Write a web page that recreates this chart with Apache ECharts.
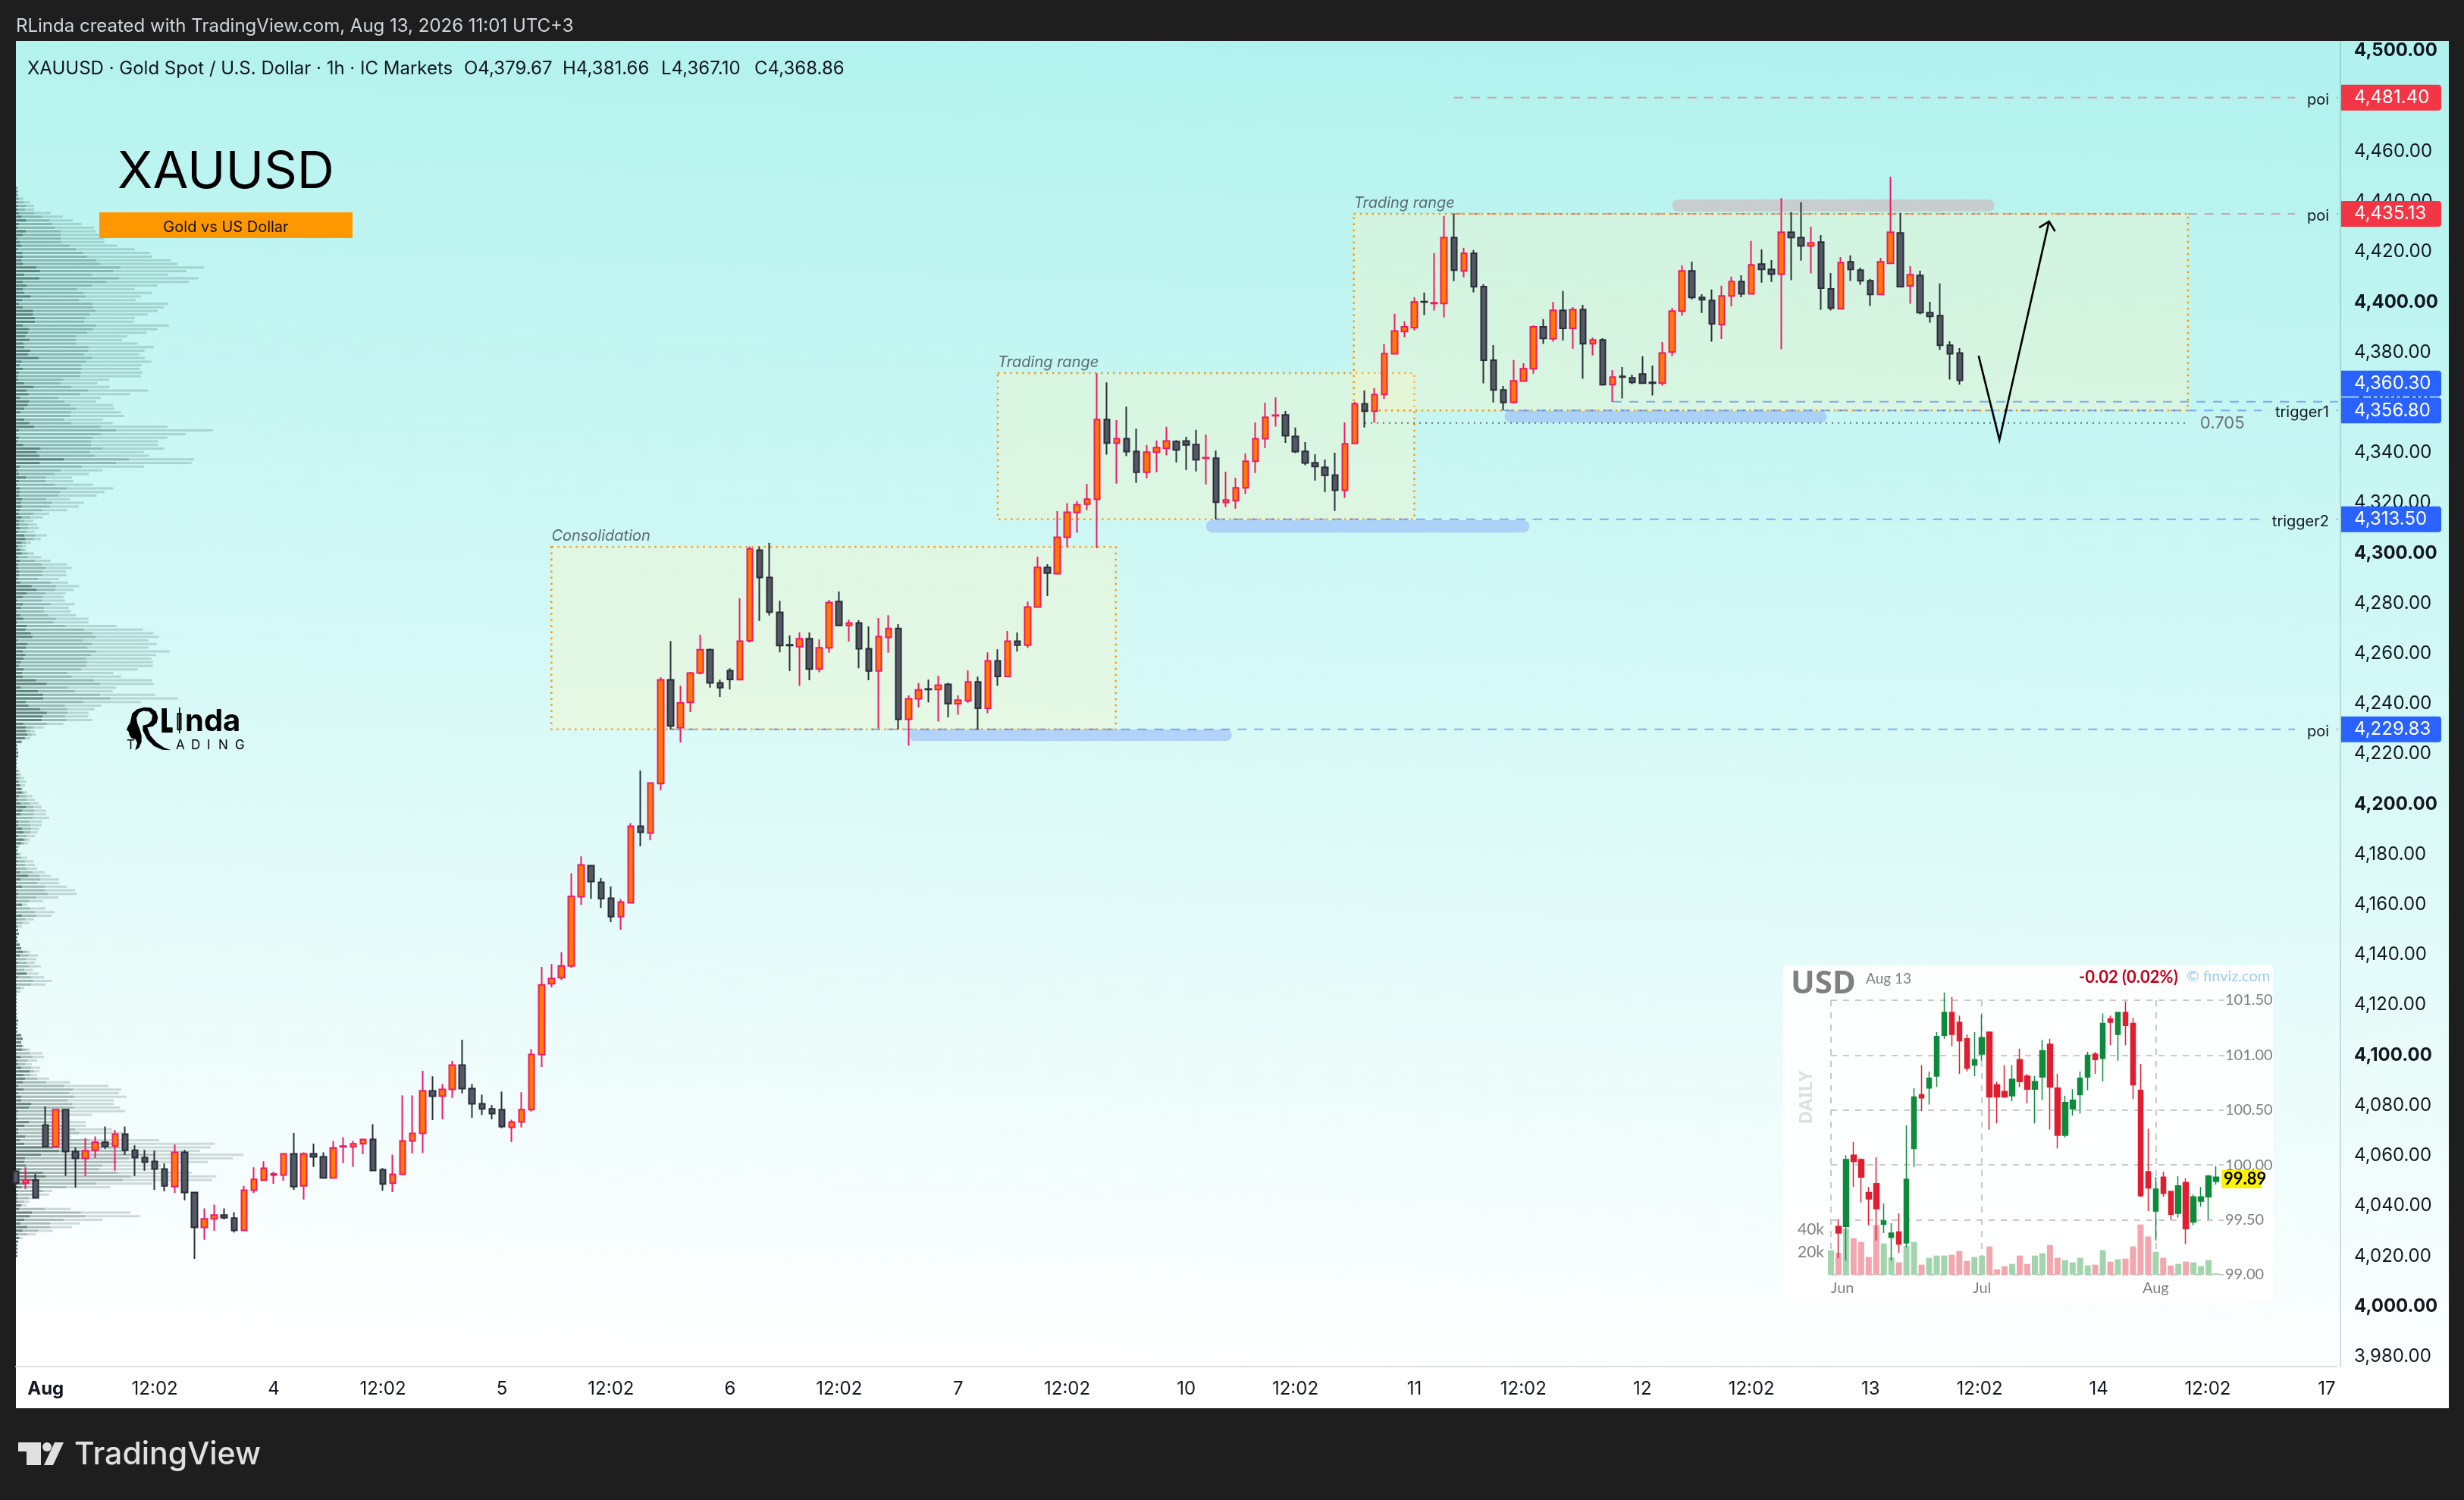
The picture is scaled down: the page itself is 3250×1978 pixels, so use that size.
<!DOCTYPE html>
<html>
<head>
	<meta charset="UTF-8">
	<title>XAUUSD</title>
	<script src="https://cdn.jsdelivr.net/npm/echarts@6/dist/echarts.min.js"></script>
	<style>
		html, body { margin: 0; padding: 0; background: #1e1e1e; }
		#main { width: 3250px; height: 1978px; }
	</style>
</head>
<body>
	<div id="main"></div>
	<script type="text/javascript">
		// XAUUSD hourly bars
		var opens = [4053.8,4049.0,4050.2,4072.2,4063.5,4078.3,4061.6,4058.9,4062.2,4065.3,
			4063.8,4068.6,4062.2,4059.2,4057.7,4054.7,4047.7,4061.3,4045.3,4031.4,
			4034.8,4036.3,4035.1,4030.2,4046.2,4050.2,4052.3,4052.3,4060.7,4048.0,
			4060.7,4059.5,4051.1,4063.5,4063.5,4064.7,4066.5,4054.4,4049.0,4052.6,
			4065.9,4068.9,4085.8,4083.7,4086.4,4096.1,4086.7,4080.7,4078.6,4078.3,
			4071.3,4073.4,4078.3,4100.3,4128.5,4130.9,4135.6,4163.1,4175.5,4168.9,
			4162.5,4155.2,4160.7,4191.2,4188.5,4208.2,4249.5,4230.5,4240.5,4252.2,
			4261.5,4248.3,4253.2,4249.6,4265.1,4301.2,4290.3,4276.4,4263.5,4262.7,
			4265.9,4253.8,4262.3,4280.7,4271.2,4272.2,4261.9,4253.1,4266.4,4270.0,
			4233.8,4242.0,4245.9,4245.7,4247.7,4240.0,4241.2,4248.7,4238.2,4257.1,
			4250.9,4264.9,4263.3,4278.5,4294.3,4291.8,4306.3,4316.2,4319.5,4321.4,
			4353.2,4343.8,4345.6,4340.5,4332.2,4340.2,4341.7,4344.4,4344.7,4343.2,
			4337.8,4337.8,4320.2,4320.9,4326.0,4336.6,4345.6,4354.7,4355.0,4346.5,
			4340.5,4336.0,4334.2,4331.1,4325.0,4343.7,4359.5,4356.5,4363.2,4379.4,
			4388.2,4389.8,4400.2,4399.4,4399.4,4425.7,4412.4,4419.4,4406.1,4376.8,
			4365.0,4360.1,4368.5,4373.4,4390.1,4385.4,4396.7,4389.5,4397.0,4383.4,
			4384.9,4367.1,4370.4,4369.8,4371.3,4368.0,4367.7,4380.1,4396.4,4412.4,
			4401.8,4400.6,4391.0,4402.4,4408.2,4403.3,4415.1,4413.0,4411.1,4427.8,
			4425.7,4422.4,4423.9,4405.2,4397.3,4416.0,4412.7,4408.5,4403.0,4415.4,
			4427.5,4406.4,4410.6,4395.8,4394.6,4382.8,4379.67];
		var closes = [4049.1,4050.3,4043.2,4063.6,4078.3,4061.6,4058.9,4061.9,4065.3,4063.7,
			4068.6,4062.2,4059.2,4057.4,4054.7,4048.0,4061.3,4045.3,4031.4,4034.8,
			4036.3,4035.3,4030.2,4046.2,4050.5,4055.0,4052.7,4060.7,4047.7,4060.7,
			4059.5,4051.1,4063.1,4063.8,4064.7,4066.5,4054.1,4048.7,4052.6,4065.9,
			4068.9,4085.8,4083.7,4086.4,4096.1,4086.7,4080.7,4078.6,4076.7,4071.6,
			4073.4,4078.3,4100.3,4128.0,4130.6,4135.6,4163.3,4175.8,4169.2,4162.4,
			4155.2,4161.0,4191.2,4188.8,4208.4,4249.5,4231.2,4240.4,4252.2,4261.5,
			4248.3,4246.4,4249.7,4264.9,4301.7,4290.3,4276.5,4263.2,4263.2,4265.9,
			4253.8,4262.3,4280.3,4271.2,4272.2,4261.9,4253.1,4266.7,4270.0,4233.8,
			4242.0,4245.5,4245.7,4247.4,4240.1,4241.4,4248.7,4238.2,4257.1,4250.9,
			4264.9,4263.3,4278.5,4294.3,4292.0,4306.3,4316.3,4319.3,4321.5,4353.2,
			4343.8,4345.6,4340.4,4332.2,4340.2,4342.0,4344.7,4341.1,4343.1,4337.2,
			4338.0,4320.3,4321.2,4326.0,4336.6,4345.6,4354.1,4354.9,4346.8,4340.4,
			4335.9,4334.5,4331.0,4325.0,4343.5,4359.5,4356.5,4363.2,4379.5,4388.5,
			4390.1,4400.0,4400.0,4399.7,4425.7,4412.7,4419.4,4406.1,4376.8,4365.0,
			4360.0,4368.6,4373.4,4390.1,4385.5,4396.7,4389.5,4397.0,4383.4,4384.9,
			4367.1,4370.1,4370.1,4368.0,4367.7,4367.7,4379.7,4396.4,4412.4,4401.8,
			4400.9,4391.3,4402.4,4408.2,4403.3,4414.8,4413.0,4411.1,4427.8,4425.7,
			4422.4,4423.6,4405.5,4397.6,4415.7,4413.0,4408.5,4403.0,4416.0,4427.8,
			4406.1,4410.9,4395.8,4394.3,4382.8,4379.4,4368.86];
		var lows = [4047.0,4046.7,4043.2,4063.6,4063.0,4051.9,4047.3,4051.9,4059.1,4062.7,
			4054.0,4060.3,4051.9,4054.0,4046.4,4045.8,4045.2,4042.2,4018.9,4026.5,
			4030.1,4034.6,4029.4,4030.2,4045.2,4050.2,4048.8,4050.0,4046.4,4042.5,
			4055.5,4051.1,4051.1,4057.0,4055.5,4060.6,4054.1,4046.1,4045.5,4052.2,
			4060.9,4061.1,4074.2,4074.5,4083.0,4084.8,4075.1,4076.2,4074.5,4070.9,
			4065.5,4071.2,4077.6,4095.3,4127.0,4130.0,4134.8,4159.9,4162.3,4158.7,
			4153.0,4150.0,4160.7,4183.2,4185.6,4205.5,4229.7,4224.5,4236.7,4251.7,
			4246.4,4242.7,4245.7,4249.6,4264.4,4273.0,4275.2,4260.5,4253.0,4247.2,
			4249.4,4252.5,4260.3,4270.9,4264.8,4254.1,4249.4,4230.2,4260.3,4229.7,
			4223.3,4238.5,4240.5,4233.0,4234.6,4235.7,4240.3,4229.7,4236.2,4247.2,
			4250.9,4260.8,4262.2,4278.5,4282.9,4291.4,4302.3,4308.1,4317.1,4302.0,
			4339.2,4327.7,4338.6,4328.0,4329.8,4332.2,4338.9,4336.1,4333.1,4332.5,
			4327.4,4313.4,4318.3,4317.7,4323.5,4331.9,4341.9,4350.4,4343.9,4339.8,
			4335.0,4328.9,4324.3,4316.8,4322.0,4343.4,4350.0,4351.9,4361.4,4379.2,
			4386.0,4388.7,4394.8,4396.6,4393.9,4408.3,4409.9,4403.9,4367.6,4360.0,
			4356.9,4359.5,4368.2,4371.5,4383.3,4384.2,4384.7,4381.4,4369.4,4378.8,
			4366.7,4360.2,4361.6,4367.3,4367.7,4362.8,4366.7,4378.5,4394.5,4401.0,
			4395.6,4384.2,4385.3,4398.3,4401.9,4403.3,4407.7,4408.0,4381.2,4408.7,
			4416.5,4411.4,4396.9,4396.6,4397.3,4408.4,4406.9,4398.4,4403.0,4415.4,
			4406.1,4399.3,4395.1,4391.8,4380.9,4369.1,4367.10];
		var highs = [4054.2,4055.4,4052.7,4079.6,4078.6,4078.6,4063.2,4066.9,4067.7,4071.6,
			4070.2,4071.6,4064.1,4062.3,4062.0,4056.9,4064.4,4062.3,4045.6,4039.0,
			4040.5,4039.0,4037.5,4048.0,4055.4,4057.8,4053.6,4060.7,4069.0,4061.3,
			4064.7,4061.3,4065.9,4067.4,4065.9,4066.5,4072.5,4055.1,4060.4,4084.0,
			4084.0,4093.8,4091.6,4088.5,4097.7,4106.2,4088.5,4084.3,4080.1,4085.5,
			4074.3,4085.3,4102.4,4135.2,4136.3,4141.1,4172.5,4179.2,4175.5,4170.5,
			4167.2,4162.2,4192.4,4213.4,4208.7,4250.6,4265.0,4247.2,4252.7,4267.5,
			4262.0,4249.6,4254.1,4282.0,4302.6,4302.6,4304.1,4281.0,4267.2,4268.4,
			4268.4,4265.6,4281.4,4284.7,4273.5,4273.3,4270.8,4274.1,4275.3,4271.7,
			4243.3,4248.2,4249.6,4251.2,4248.4,4243.3,4253.3,4250.8,4260.5,4261.7,
			4269.0,4268.4,4280.7,4298.6,4295.6,4316.7,4319.9,4320.7,4327.6,4371.6,
			4368.0,4353.0,4358.3,4349.6,4343.0,4344.8,4350.3,4345.0,4346.3,4349.1,
			4347.2,4340.9,4332.4,4330.0,4339.7,4352.1,4359.9,4362.0,4356.6,4350.0,
			4344.2,4339.4,4337.3,4340.0,4352.1,4360.2,4364.8,4365.7,4383.2,4395.3,
			4392.3,4401.9,4403.8,4419.5,4434.3,4435.3,4421.6,4420.7,4407.1,4382.9,
			4366.6,4376.9,4375.6,4390.7,4393.2,4400.1,4404.4,4398.0,4398.9,4385.9,
			4385.6,4372.9,4374.1,4371.1,4378.4,4374.7,4384.1,4397.7,4414.6,4416.1,
			4403.1,4405.0,4406.5,4410.1,4410.7,4424.3,4421.0,4416.7,4441.5,4435.8,
			4439.7,4430.0,4426.7,4411.6,4417.9,4418.6,4413.7,4409.2,4417.6,4449.9,
			4435.5,4414.3,4412.5,4400.1,4407.4,4384.4,4381.66];

		// time axis: bar number of each label and its text
		var barCount = 235;
		var tickBars = [3,14,26,37,49,60,72,83,95,106,118,129,141,152,164,175,187,198,210,221,233];
		var tickLabels = ['Aug','12:02','4','12:02','5','12:02','6','12:02','7','12:02','10','12:02','11','12:02','12','12:02','13','12:02','14','12:02','17'];
		var priceTicks = [3980,4000,4020,4040,4060,4080,4100,4120,4140,4160,4180,4200,4220,4240,4260,4280,4300,4320,4340,4360,4380,4400,4420,4440,4460,4480,4500];

		// drawn ranges
		var zoneStart = [54, 99, 134.9];
		var zoneEnd = [110.9, 141, 219];
		var zoneTop = [4302.5, 4371.7, 4435.13];
		var zoneBottom = [4229.83, 4313.5, 4356.8];
		var zoneLabels = ['Consolidation', 'Trading range', 'Trading range'];

		// horizontal levels with their price tags
		var levelPrices = [4481.40, 4435.13, 4360.30, 4356.80, 4313.50, 4229.83];
		var levelStart = [145, 145, 161, 150, 121, 66];
		var levelLabels = ['poi', 'poi', '', 'trigger1', 'trigger2', 'poi'];
		var levelKinds = ['red', 'red', 'blue', 'blue', 'blue', 'blue'];

		// thick rounded marker bars
		var padStart = [90, 120, 150.1, 167];
		var padEnd = [122.6, 152.6, 182.6, 199.5];
		var padTop = [4229.8, 4313.1, 4356.6, 4440.9];
		var padBottom = [4225.2, 4308.2, 4352.0, 4436.0];
		var padKinds = ['blue', 'blue', 'blue', 'gray'];

		var fibStart = 136, fibEnd = 218.7, fibPrice = 4351.8, fibLabel = '0.705';
		var arrowBars = [197.9, 200, 205];
		var arrowPrices = [4378.6, 4345.1, 4432.1];

		// volume profile, one row per price step, top row to bottom row
		var vpTopPrice = 4445.5, vpBottomPrice = 4020.0;
		var vpTotal = [7,9,9,29,53,72,72,137,185,225,260,309,317,335,350,350,402,470,530,539,612,639,743,675,602,722,685,559,470,537,
			494,474,602,584,560,521,470,467,605,560,518,440,419,482,545,509,488,512,536,497,491,500,494,369,323,371,524,452,335,317,
			384,389,416,428,344,383,599,779,671,599,563,563,587,506,527,704,695,506,344,290,221,227,305,386,350,320,215,269,248,203,
			132,107,69,84,92,74,122,99,60,39,42,72,99,137,201,221,197,200,170,206,251,227,197,188,194,233,209,218,239,287,
			287,398,503,545,566,524,557,527,608,554,536,542,542,482,386,416,539,545,395,383,551,641,494,338,311,287,287,302,188,110,
			75,80,57,24,5,6,9,9,3,3,3,15,21,33,41,36,27,45,66,75,90,102,120,120,132,102,102,93,87,75,
			57,48,15,6,21,45,69,75,84,114,138,171,171,201,234,240,168,108,45,117,153,141,72,51,24,9,12,6,6,15,
			21,57,87,81,75,99,66,90,111,141,117,33,18,3,3,3,3,3,3,3,9,6,6,6,21,27,21,33,57,105,
			111,84,63,96,93,84,132,213,366,417,408,438,387,387,411,432,300,200,276,276,381,423,219,567,786,771,729,900,858,759,
			574,591,695,793,777,540,373,144,131,94,54,42,216,453,490,342,252,223,147,78,26,9,6,6,6,6];
		var vpMid = [5,9,9,12,29,39,37,72,102,132,142,155,177,177,177,180,213,237,267,282,317,332,414,384,299,407,357,300,242,267,
			275,249,303,305,315,293,274,270,317,305,282,239,237,239,287,285,269,302,279,258,260,257,252,189,177,219,285,252,167,190,
			215,237,219,215,189,219,335,397,335,305,297,297,342,293,312,447,396,260,177,152,117,117,155,201,174,167,120,143,134,102,
			69,57,33,49,47,42,77,69,39,24,29,47,47,75,102,117,105,105,87,138,159,155,117,107,102,137,111,111,128,159,
			147,197,270,303,315,264,300,282,317,297,279,282,279,258,204,221,308,332,206,233,332,374,267,194,204,204,194,200,122,69,
			57,62,37,22,5,6,9,9,3,3,3,9,12,17,15,17,24,33,39,42,54,69,72,69,66,54,57,60,57,42,
			42,33,9,6,12,21,36,36,42,66,93,96,84,114,114,126,81,51,24,57,75,81,36,27,9,9,12,6,6,15,
			21,42,51,39,42,51,33,42,60,69,60,18,6,3,3,3,3,3,3,3,9,6,6,6,21,27,21,24,42,54,
			66,45,36,60,72,57,84,120,189,225,210,231,204,222,231,204,150,110,150,195,234,250,160,291,400,410,440,552,447,400,
			342,330,402,454,423,316,199,109,75,51,32,23,114,257,273,188,135,135,87,45,13,9,6,6,6,6];
		var vpDark = [2,3,3,2,5,7,5,12,22,39,12,7,39,27,7,15,22,7,25,27,22,27,80,95,32,92,27,42,27,32,
			59,25,12,27,67,67,75,75,27,52,47,37,53,29,33,57,47,90,22,15,27,12,7,9,32,69,42,50,15,52,
			47,33,17,2,33,52,72,12,2,12,7,29,97,82,92,189,95,15,7,12,39,12,5,15,15,12,24,19,22,15,
			12,22,12,12,15,9,33,37,22,9,15,22,9,15,9,9,12,12,9,17,62,82,42,27,5,27,19,3,17,29,
			5,42,37,59,65,7,45,39,27,37,30,19,12,30,24,27,80,122,19,87,107,108,39,50,95,122,105,102,29,39,
			39,45,35,22,5,6,9,9,3,3,3,3,3,3,9,15,21,24,12,6,18,39,24,18,3,9,9,24,30,9,
			30,21,3,6,6,3,6,3,3,15,48,18,3,24,3,9,3,3,24,3,3,24,3,3,3,9,12,6,6,15,
			21,27,15,3,6,3,3,42,6,3,3,3,3,3,3,3,3,3,3,3,9,6,6,6,21,27,21,24,24,3,
			18,6,9,21,54,30,36,27,9,30,9,21,21,60,51,9,3,6,51,33,9,9,36,15,33,147,171,99,36,33,
			39,21,106,118,92,40,23,6,6,6,6,20,13,63,54,33,18,45,25,8,13,9,6,6,6,6];

		// USD daily inset
		var insetMonths = {0: 'Jun', 20: 'Jul', 43: 'Aug'};
		var insetOpen = [null,99.44,99.44,100.09,100.05,99.75,99.83,99.46,99.34,99.39,99.29,100.15,100.64,100.70,100.81,101.18,101.39,101.30,101.15,100.91,101.01,101.21,100.73,100.67,100.63,100.96,100.81,100.69,100.80,101.10,100.70,100.27,100.51,100.64,100.80,101.01,100.97,101.33,101.19,101.39,101.29,100.68,99.94,99.58,99.89,99.76,99.56,99.84,99.48,99.67,99.71,99.85];
		var insetClose = [null,99.38,100.05,100.03,99.89,99.69,99.60,99.49,99.38,99.28,99.87,100.62,100.61,100.79,101.17,101.39,101.19,101.13,100.88,100.96,101.16,100.62,100.62,100.62,100.78,100.76,100.69,100.76,101.04,100.71,100.27,100.57,100.59,100.79,101.00,100.96,101.29,101.30,101.39,101.27,100.73,99.72,99.79,99.78,99.74,99.55,99.81,99.42,99.71,99.71,99.90,99.89];
		var insetLow = [null,99.15,99.13,99.80,99.66,99.45,99.31,99.38,99.13,99.20,99.25,99.98,100.49,100.55,100.71,101.15,101.08,100.83,100.85,100.81,100.95,100.32,100.38,100.61,100.58,100.71,100.56,100.38,100.59,100.32,100.15,100.25,100.45,100.47,100.68,100.83,100.76,101.09,100.95,101.09,100.60,99.71,99.58,99.31,99.71,99.50,99.52,99.28,99.45,99.62,99.50,99.82];
		var insetHigh = [null,99.51,100.09,100.21,100.06,99.80,100.07,99.65,99.47,99.56,100.36,100.70,100.91,100.85,101.21,101.57,101.53,101.36,101.19,101.21,101.37,101.21,100.76,100.91,100.91,101.06,100.83,100.81,101.14,101.15,100.83,100.63,100.69,100.85,101.03,101.03,101.38,101.36,101.39,101.49,101.34,100.92,100.33,99.89,99.94,99.76,99.90,99.88,99.73,99.80,99.91,99.99];
		var insetVolume = [21500,19300,40400,32200,28900,15600,43600,27600,15300,10900,25300,28900,8900,14900,16900,16900,17600,20900,12200,15600,16900,24900,4900,7600,9600,16900,9600,16900,18900,26200,14900,12900,10900,14900,8200,8900,21600,11600,13600,14200,24900,44200,33600,20200,14900,8200,9600,11600,10900,7600,12900,1300];
		var insetPriceTicks = [99, 99.5, 100, 100.5, 101, 101.5];
		var insetVolumeTicks = [20000, 40000];

		var FONT = 'Inter, sans-serif';
		var RED = 'rgba(242,54,69,0.42)', BLUE = 'rgba(41,98,255,0.5)';
		var TAG = { red: '#f23645', blue: '#2962ff' };
		var PAD = { blue: 'rgba(148,181,249,0.55)', gray: 'rgba(213,167,172,0.5)' };

		var candleData = opens.map(function (o, i) { return [o, closes[i], lows[i], highs[i]]; });
		var insetCandles = insetOpen.map(function (o, i) { return [o, insetClose[i], insetLow[i], insetHigh[i]]; });

		var categories = [];
		for (var b = 0; b < barCount; b++) categories.push('');
		tickBars.forEach(function (bar, i) {
			categories[bar] = tickLabels[i];
		});
		var insetCategories = [];
		for (var c = 0; c < 53; c++) {
			if (c === 0) insetCategories.push({ value: 'Jun', textStyle: { align: 'left' } });
			else insetCategories.push(insetMonths[c] || '');
		}

		var vpStep = (vpTopPrice - vpBottomPrice) / (vpTotal.length - 1);
		var vpData = vpTotal.map(function (t, i) {
			return [vpTopPrice - i * vpStep, t, vpMid[i], vpDark[i]];
		});

		function fmtPrice(v) {
			return echarts.format.addCommas(v.toFixed(2));
		}

		function renderProfile(params, api) {
			var p = api.value(0);
			var x0 = api.coord([0, p]);
			function row(v, alpha) {
				var x1 = api.coord([v, p]);
				return {
					type: 'rect',
					shape: { x: x0[0], y: x0[1] - 1.5, width: x1[0] - x0[0], height: 3 },
					style: { fill: 'rgba(60,90,85,' + alpha + ')' }
				};
			}
			return { type: 'group', children: [row(api.value(1), 0.22), row(api.value(2), 0.24), row(api.value(3), 0.56)] };
		}

		function renderZone(params, api) {
			var i = params.dataIndex;
			var a = api.coord([zoneStart[i], zoneTop[i]]);
			var b = api.coord([zoneEnd[i], zoneBottom[i]]);
			return {
				type: 'group',
				children: [{
					type: 'rect',
					shape: { x: a[0], y: a[1], width: b[0] - a[0], height: b[1] - a[1] },
					style: { fill: 'rgba(255,245,190,0.33)', stroke: '#ff9800', lineWidth: 2.4, lineDash: [2.4, 5.6] }
				}, {
					type: 'text',
					style: { x: a[0], y: a[1] - 14, text: zoneLabels[i], fill: '#5b6b6e', font: 'italic 20px ' + FONT, verticalAlign: 'middle' }
				}]
			};
		}

		function renderPad(params, api) {
			var i = params.dataIndex;
			var a = api.coord([padStart[i], padTop[i]]);
			var b = api.coord([padEnd[i], padBottom[i]]);
			return {
				type: 'rect',
				shape: { x: a[0], y: a[1], width: b[0] - a[0], height: b[1] - a[1], r: 8 },
				style: { fill: PAD[padKinds[i]] }
			};
		}

		function renderLevel(params, api) {
			var i = params.dataIndex;
			var a = api.coord([levelStart[i], levelPrices[i]]);
			var color = levelKinds[i] === 'red' ? RED : BLUE;
			var label = levelLabels[i];
			var dash = { stroke: color, lineWidth: 2, lineDash: [12, 10] };
			var right = 3084;
			var children = [];
			if (label) {
				var gap = label === 'poi' ? 3027 : 2983;
				children.push({ type: 'line', shape: { x1: a[0], y1: a[1], x2: gap, y2: a[1] }, style: dash });
				children.push({ type: 'line', shape: { x1: 3082, y1: a[1], x2: right, y2: a[1] }, style: dash });
				children.push({
					type: 'text',
					style: { x: 3072, y: a[1] + 3, text: label, fill: '#131722', font: '20px ' + FONT, align: 'right', verticalAlign: 'middle' }
				});
			} else {
				children.push({ type: 'line', shape: { x1: a[0], y1: a[1], x2: right, y2: a[1] }, style: dash });
			}
			return { type: 'group', children: children };
		}

		function renderTag(params, api) {
			var i = params.dataIndex;
			var a = api.coord([0, levelPrices[i]]);
			// the 4,360.30 tag is pushed up by the one just below it
			var y = i === 2 ? a[1] - 24 : a[1];
			return {
				type: 'group',
				children: [{
					type: 'rect',
					shape: { x: 3088, y: y - 17, width: 132, height: 34, r: [0, 4, 4, 0] },
					style: { fill: TAG[levelKinds[i]] }
				}, {
					type: 'text',
					style: { x: 3105, y: y, text: fmtPrice(levelPrices[i]), fill: '#fff', font: '24px ' + FONT, verticalAlign: 'middle' }
				}]
			};
		}

		function renderFib(params, api) {
			var a = api.coord([fibStart, fibPrice]);
			var b = api.coord([fibEnd, fibPrice]);
			return {
				type: 'group',
				children: [{
					type: 'line',
					shape: { x1: a[0], y1: a[1], x2: b[0], y2: b[1] },
					style: { stroke: '#6a6f75', lineWidth: 2, lineDash: [2, 6] }
				}, {
					type: 'text',
					style: { x: b[0] + 20, y: a[1] + 1, text: fibLabel, fill: '#6a6f75', font: '22px ' + FONT, verticalAlign: 'middle' }
				}]
			};
		}

		function renderArrow(params, api) {
			var pts = arrowBars.map(function (x, i) { return api.coord([x, arrowPrices[i]]); });
			var tip = pts[2];
			return {
				type: 'group',
				children: [{
					type: 'polyline',
					shape: { points: pts },
					style: { stroke: '#000', lineWidth: 2.6, fill: null }
				}, {
					type: 'polyline',
					shape: { points: [[tip[0] - 13, tip[1] + 8], tip, [tip[0] + 8, tip[1] + 13]] },
					style: { stroke: '#000', lineWidth: 2.6, fill: null }
				}]
			};
		}

		function overlay(renderItem, data, z, xIndex) {
			return {
				type: 'custom',
				xAxisIndex: xIndex === undefined ? 1 : xIndex,
				yAxisIndex: 0,
				z: z,
				silent: true,
				renderItem: renderItem,
				data: data,
				encode: { x: 0, y: 1 }
			};
		}

		function label(x, y, text, font, fill, extra) {
			var style = { x: x, y: y, text: text, font: font, fill: fill, verticalAlign: 'middle' };
			if (extra) Object.keys(extra).forEach(function (k) { style[k] = extra[k]; });
			return { type: 'text', z: 6, silent: true, style: style };
		}

		function shape(points, fill) {
			return { type: 'polygon', z: 6, silent: true, shape: { points: points }, style: { fill: fill } };
		}

		// logo outline is traced in 3x units from its top left corner
		function logoPoints(points) {
			return points.map(function (p) { return [155 + p[0] / 3, 920 + p[1] / 3]; });
		}

		var myChart = echarts.init(document.getElementById('main'), null, { renderer: 'canvas' });

		myChart.setOption({
			animation: false,
			backgroundColor: '#1e1e1e',
			textStyle: { fontFamily: FONT },
			grid: [
				{ left: 21, top: 54, width: 3061, height: 1748 },
				{ left: 2415, top: 1319, width: 518, height: 362 }
			],
			xAxis: [{
				type: 'category',
				gridIndex: 0,
				data: categories,
				boundaryGap: false,
				axisTick: { show: false },
				splitLine: { show: false },
				axisLine: { lineStyle: { color: '#e0e0e0', width: 2 } },
				axisLabel: {
					interval: function (index, value) { return value !== ''; },
					margin: 18,
					color: '#131722',
					fontSize: 24,
					fontFamily: FONT,
					hideOverlap: false,
					formatter: function (v) { return v === 'Aug' ? '{b|Aug}' : v; },
					rich: { b: { fontWeight: 700, fontSize: 24, fontFamily: FONT, color: '#131722' } }
				}
			}, {
				type: 'value', gridIndex: 0, show: false, min: 0, max: barCount - 1, splitLine: { show: false }
			}, {
				type: 'value', gridIndex: 0, show: false, min: 0, max: 9183, splitLine: { show: false }
			}, {
				type: 'category',
				gridIndex: 1,
				data: insetCategories,
				boundaryGap: false,
				axisTick: { show: false },
				axisLine: { show: false },
				splitLine: {
					show: true,
					interval: function (index) { return insetMonths[index] !== undefined; },
					lineStyle: { color: '#c9c9c9', type: [8, 8], width: 2 }
				},
				axisLabel: {
					interval: function (index) { return insetMonths[index] !== undefined; },
					margin: 8,
					color: '#808080',
					fontSize: 20,
					fontFamily: 'Lato'
				}
			}],
			yAxis: [{
				type: 'value',
				gridIndex: 0,
				position: 'right',
				min: 3976,
				max: 4504,
				splitLine: { show: false },
				axisLine: { show: false },
				axisTick: { show: false },
				axisLabel: {
					customValues: priceTicks,
					margin: 23,
					color: '#131722',
					fontSize: 24,
					fontFamily: FONT,
					formatter: function (v) {
						return v % 100 === 0 ? '{b|' + fmtPrice(v) + '}' : fmtPrice(v);
					},
					rich: { b: { fontWeight: 700, fontSize: 24, fontFamily: FONT, color: '#131722' } }
				}
			}, {
				type: 'value',
				gridIndex: 1,
				position: 'right',
				min: 99,
				max: 101.5,
				axisLine: { show: false },
				axisTick: { show: false },
				splitLine: {
					show: true,
					lineStyle: { color: '#c9c9c9', type: [8, 8], width: 2 }
				},
				axisLabel: {
					customValues: insetPriceTicks,
					margin: 2,
					color: '#808080',
					fontSize: 20,
					fontFamily: 'Lato',
					formatter: function (v) { return v.toFixed(2); }
				}
			}, {
				type: 'value',
				gridIndex: 1,
				position: 'left',
				min: 0,
				max: 241333,
				axisLine: { show: false },
				axisTick: { show: false },
				splitLine: { show: false },
				axisLabel: {
					customValues: insetVolumeTicks,
					margin: 9,
					color: '#808080',
					fontSize: 21,
					fontFamily: 'Lato',
					formatter: function (v) { return (v / 1000) + 'k'; }
				}
			}],
			graphic: [
				{ type: 'rect', z: -3, silent: true, shape: { x: 21, y: 54, width: 3209, height: 1749 }, style: {
					fill: new echarts.graphic.LinearGradient(0.51, 0, 0.49, 1, [
						{ offset: 0, color: '#b2f2ee' },
						{ offset: 0.5, color: '#d6f9f6' },
						{ offset: 1, color: '#ffffff' }
					])
				} },
				{ type: 'rect', z: -3, silent: true, shape: { x: 21, y: 1803, width: 3209, height: 54 }, style: { fill: '#fff' } },
				{ type: 'rect', z: -2, silent: true, shape: { x: 3086, y: 54, width: 2, height: 1749 }, style: { fill: 'rgba(40,80,80,0.18)' } },
				{ type: 'rect', z: -2, silent: true, shape: { x: 2352, y: 1273, width: 646, height: 443 }, style: { fill: 'rgba(255,255,255,0.92)' } },

				label(21, 35, 'RLinda created with TradingView.com, Aug 13, 2026 11:01 UTC+3', '24px ' + FONT, '#d1d4dc'),
				label(36, 91, 'XAUUSD · Gold Spot / U.S. Dollar · 1h · IC Markets', '24px ' + FONT, '#131722'),
				label(612, 91, 'O4,379.67', '24px ' + FONT, '#131722'),
				label(742, 91, 'H4,381.66', '24px ' + FONT, '#131722'),
				label(872, 91, 'L4,367.10', '24px ' + FONT, '#131722'),
				label(995, 91, 'C4,368.86', '24px ' + FONT, '#131722'),

				label(155, 228, 'XAUUSD', '68px ' + FONT, '#000'),
				{ type: 'rect', z: 5, silent: true, shape: { x: 131, y: 280, width: 334, height: 34 }, style: { fill: '#ff9800' } },
				label(298, 300, 'Gold vs US Dollar', '20px ' + FONT, '#111', { align: 'center' }),

				// RLinda logo
				shape(logoPoints([[52,90],[58,62],[78,46],[105,38],[132,40],[152,55],[160,78],[155,100],[140,113],[118,118],[130,150],[155,178],[185,198],[212,208],[178,206],[145,192],[118,165],[100,130],[100,110],[120,105],[135,90],[138,70],[125,55],[102,52],[85,60],[75,80],[78,100],[88,125],[95,150],[95,175],[85,198],[70,208],[78,180],[72,165],[55,160],[47,148],[44,135],[36,127],[42,112],[50,100]]), '#000'),
				shape(logoPoints([[175,42],[195,42],[195,118],[218,118],[218,138],[175,138]]), '#000'),
				{ type: 'rect', z: 6, silent: true, shape: { x: 234.5, y: 941, width: 4, height: 21 }, style: { fill: 'none', stroke: '#000', lineWidth: 2 } },
				{ type: 'rect', z: 6, silent: true, shape: { x: 236, y: 933, width: 1.5, height: 34 }, style: { fill: '#000' } },
				label(244, 952, 'nda', '700 40px ' + FONT, '#000'),
				label(167, 983, 'T', '17px ' + FONT, '#000'),
				label(232, 983, 'A', '17px ' + FONT, '#000'),
				label(252, 983, 'D', '17px ' + FONT, '#000'),
				label(273, 983, 'I', '17px ' + FONT, '#000'),
				label(288, 983, 'N', '17px ' + FONT, '#000'),
				label(310, 983, 'G', '17px ' + FONT, '#000'),

				// TradingView mark
				shape([[24,1902],[54,1902],[54,1932],[35,1932],[35,1914],[24,1914]], '#e0e0e0'),
				shape([[72,1902],[84,1902],[70,1932],[58,1932]], '#e0e0e0'),
				{ type: 'circle', z: 6, silent: true, shape: { cx: 62, cy: 1908, r: 6 }, style: { fill: '#e0e0e0' } },
				label(98, 1919, 'TradingView', '500 41px ' + FONT, '#e0e0e0'),

				// USD inset texts
				label(2362, 1298, 'USD', '700 42px "Noto Sans"', '#808080'),
				label(2461, 1291, 'Aug 13', '19px Lato', '#808080'),
				label(2742, 1289, '-0.02 (0.02%)', '700 22px Lato', '#c4001a'),
				label(2884, 1288, '© finviz.com', '20px Lato', '#9ccbee'),
				{ type: 'text', z: 6, silent: true, x: 2383, y: 1447, rotation: Math.PI / 2, style: { x: 0, y: 0, text: 'DAILY', font: '700 24px "Noto Sans"', fill: '#e0e0e0', align: 'center', verticalAlign: 'middle' } },
				{ type: 'rect', z: 6, silent: true, shape: { x: 2930, y: 1543, width: 53, height: 24 }, style: { fill: '#fff200' } },
				label(2933, 1555, '99.89', '700 22px Lato', '#000')
			],
			series: [
				overlay(renderProfile, vpData, 1, 2),
				overlay(renderZone, zoneStart.map(function (s, i) { return [s, zoneTop[i]]; }), 1),
				overlay(renderPad, padStart.map(function (s, i) { return [s, padTop[i]]; }), 1),
				overlay(renderLevel, levelPrices.map(function (p, i) { return [levelStart[i], p]; }), 1),
				overlay(renderFib, [[fibStart, fibPrice]], 1),
				{
					type: 'candlestick',
					xAxisIndex: 0,
					yAxisIndex: 0,
					z: 3,
					barWidth: 8,
					data: candleData,
					itemStyle: {
						color: '#ff7b00',
						color0: '#555966',
						borderColor: '#f01a66',
						borderColor0: '#2a2e39',
						borderWidth: 2
					}
				},
				overlay(renderArrow, [[arrowBars[0], arrowPrices[0]]], 4),
				overlay(renderTag, levelPrices.map(function (p, i) { return [0, p]; }), 5),
				{
					type: 'bar',
					xAxisIndex: 3,
					yAxisIndex: 2,
					z: 2,
					barWidth: 8,
					data: insetVolume,
					itemStyle: {
						color: function (p) {
							var i = p.dataIndex;
							return i === 0 || insetClose[i] >= insetOpen[i] ? '#a2d5ae' : '#f2a6ad';
						}
					}
				},
				{
					type: 'candlestick',
					xAxisIndex: 3,
					yAxisIndex: 1,
					z: 3,
					barWidth: 7,
					clip: false,
					data: insetCandles,
					itemStyle: {
						color: '#0e8a3c',
						color0: '#e01e30',
						borderColor: '#0e8a3c',
						borderColor0: '#e01e30',
						borderWidth: 1.5
					}
				}
			]
		});
	</script>
</body>
</html>
